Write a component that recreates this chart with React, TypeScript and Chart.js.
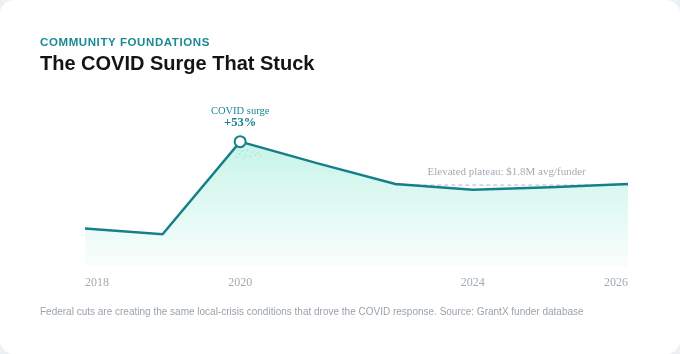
import React, { useEffect, useLayoutEffect, useRef } from "react";
import { Chart, registerables } from "chart.js";

Chart.register(...registerables);

const categories = ["2018", "2019", "2020", "2021", "2022", "2024", "2025", "2026"];
const shownTicks = ["2018", "2020", "2024", "2026"];
const avgGrantM = [1.42, 1.37, 2.18, 1.99, 1.81, 1.76, 1.78, 1.81];
const plateauLine = [null, null, null, null, 1.8, 1.8, 1.8, 1.8];
const peakIndex = 2;
const peakLabel = "COVID surge";
const peakValueLabel = "+53%";
const plateauLabel = "Elevated plateau: $1.8M avg/funder";

const TEAL = "#16808a";
const TEAL_TEXT = "#1a8a92";
const GRAY = "#a3abb3";
const SERIF = "'Liberation Serif', 'Times New Roman', serif";
const SANS = "'Liberation Sans', Arial, Helvetica, sans-serif";

const annotationPlugin = {
  id: "annotations",
  afterDatasetsDraw(chart: any) {
    const { ctx, scales } = chart;
    const x = scales.x;
    const y = scales.y;
    const px = x.getPixelForValue(peakIndex);
    const py = y.getPixelForValue(avgGrantM[peakIndex]);
    ctx.save();
    ctx.fillStyle = "rgba(22,128,138,0.35)";
    const dots = [
      [-3, 8], [2, 9], [7, 8], [12, 10], [17, 11], [-1, 12], [5, 13], [10, 14], [15, 13], [20, 14], [-4, 15], [3, 16]
    ];
    dots.forEach(([dx, dy]) => ctx.fillRect(px + dx, py + dy, 1, 1));

    ctx.textAlign = "center";
    ctx.textBaseline = "middle";
    ctx.fillStyle = TEAL_TEXT;
    ctx.font = `10.5px ${SERIF}`;
    ctx.fillText(peakLabel, px, py - 30.5);
    ctx.fillStyle = TEAL;
    ctx.font = `bold 12.5px ${SERIF}`;
    ctx.fillText(peakValueLabel, px, py - 18.5);

    const x0 = x.getPixelForValue(4);
    const x1 = x.getPixelForValue(categories.length - 1);
    const yp = y.getPixelForValue(1.8);
    ctx.fillStyle = GRAY;
    ctx.font = `11px ${SERIF}`;
    ctx.fillText(plateauLabel, (x0 + x1) / 2 - 5, yp - 12.5);
    ctx.restore();
  },
};

function LineChart() {
  const ref = useRef<HTMLCanvasElement | null>(null);
  useEffect(() => {
    if (!ref.current) return;
    const chart = new Chart(ref.current, {
      type: "line",
      data: {
        labels: categories,
        datasets: [
          {
            label: "Avg grant per funder ($M)",
            data: avgGrantM,
            borderColor: TEAL,
            borderWidth: 2.5,
            tension: 0,
            fill: "start",
            backgroundColor: (c: any) => {
              const { chart } = c;
              const area = chart.chartArea;
              if (!area) return "rgba(94,224,190,0.3)";
              const g = chart.ctx.createLinearGradient(0, area.top, 0, area.bottom);
              g.addColorStop(0, "rgba(94,224,190,0.42)");
              g.addColorStop(1, "rgba(94,224,190,0.03)");
              return g;
            },
            pointRadius: (c: any) => (c.dataIndex === peakIndex ? 5.5 : 0),
            pointBackgroundColor: "#ffffff",
            pointBorderColor: TEAL,
            pointBorderWidth: 2,
            order: 0,
          },
          {
            label: "Plateau",
            data: plateauLine as any,
            borderColor: "rgba(150,160,168,0.75)",
            borderWidth: 1,
            borderDash: [4, 3],
            pointRadius: 0,
            fill: false,
            spanGaps: false,
            order: 1,
          },
        ],
      },
      options: {
        responsive: false,
        animation: false,
        layout: { padding: { left: 85, right: 52, top: 116.5, bottom: 54.6 } },
        plugins: { legend: { display: false }, tooltip: { enabled: false } },
        scales: {
          x: {
            type: "category",
            grid: { display: false, drawTicks: false },
            border: { display: false },
            ticks: {
              autoSkip: false,
              maxRotation: 0,
              align: "inner",
              padding: 9,
              color: GRAY,
              font: { family: SERIF, size: 12 },
              callback: function (this: any, value: any) {
                const lab = categories[value as number];
                return shownTicks.includes(lab) ? lab : "";
              },
            },
          },
          y: { display: false, min: 1.083, max: 2.4 },
        },
      },
      plugins: [annotationPlugin],
    });
    return () => chart.destroy();
  }, []);
  return (
    <canvas
      ref={ref}
      width={680}
      height={354}
      style={{ position: "absolute", left: 0, top: 0, width: 680, height: 354 }}
    />
  );
}

export default function App() {
  useLayoutEffect(() => {
    document.body.style.margin = "0";
    document.body.style.background = "#eef1f4";
  }, []);
  return (
    <div
      style={{
        position: "relative",
        width: 680,
        height: 354,
        background: "#ffffff",
        borderRadius: 14,
        overflow: "hidden",
        fontFamily: SANS,
      }}
    >
      <LineChart />
      <div
        style={{
          position: "absolute",
          left: 40,
          top: 37,
          fontSize: 11.5,
          lineHeight: 1,
          fontWeight: 700,
          letterSpacing: 0.6,
          color: TEAL_TEXT,
          whiteSpace: "nowrap",
        }}
      >
        COMMUNITY FOUNDATIONS
      </div>
      <div
        style={{
          position: "absolute",
          left: 40,
          top: 52.6,
          fontSize: 20,
          lineHeight: 1,
          fontWeight: 700,
          color: "#111418",
          whiteSpace: "nowrap",
        }}
      >
        The COVID Surge That Stuck
      </div>
      <div
        style={{
          position: "absolute",
          left: 40,
          top: 307,
          fontSize: 10,
          lineHeight: 1,
          color: "#9aa3ab",
          whiteSpace: "nowrap",
        }}
      >
        Federal cuts are creating the same local-crisis conditions that drove the COVID response. Source: GrantX funder database
      </div>
    </div>
  );
}
